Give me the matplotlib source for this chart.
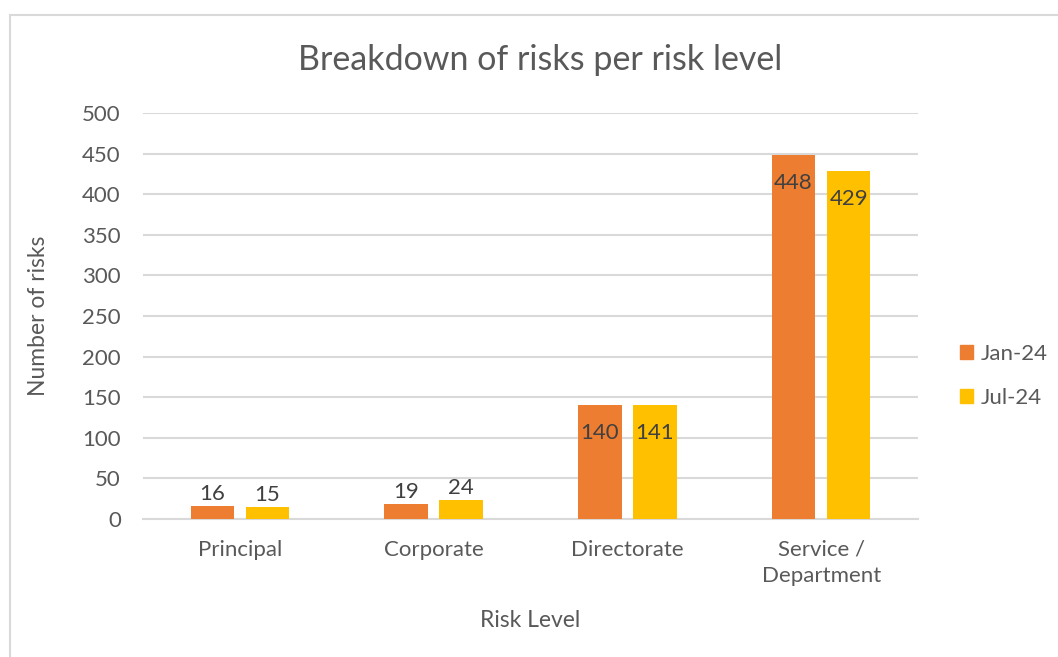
import matplotlib
matplotlib.use("Agg")
import matplotlib.pyplot as plt
import matplotlib.patches as mpatches
import numpy as np

plt.rcParams['font.family'] = ['Lato', 'DejaVu Sans']

categories = ['Principal', 'Corporate', 'Directorate', 'Service /\nDepartment']
jan24 = [16, 19, 140, 448]
jul24 = [15, 24, 141, 429]
series_names = ['Jan-24', 'Jul-24']
colors = ['#ED7D31', '#FFC000']
yticks = [0, 50, 100, 150, 200, 250, 300, 350, 400, 450, 500]

txt = '#595959'
grid = '#D9D9D9'
fs = 16

fig = plt.figure(figsize=(10.58, 6.57), dpi=100)
ax = fig.add_axes([143/1058, 1 - 519/657, (918-143)/1058, (519-113)/657])

x = np.arange(len(categories))
w = 0.225
off = 0.142
for vals, c, sgn, name in zip([jan24, jul24], colors, [-1, 1], series_names):
    bars = ax.bar(x + sgn*off, vals, width=w, color=c, label=name, zorder=3)
    for b, v in zip(bars, vals):
        cx = b.get_x() + b.get_width()/2
        if v > 60:
            ax.annotate(str(v), (cx, v), xytext=(0, -28), textcoords='offset pixels',
                        ha='center', va='center', fontsize=fs, color='#404040', zorder=4)
        else:
            ax.annotate(str(v), (cx, v), xytext=(0, 2), textcoords='offset pixels',
                        ha='center', va='bottom', fontsize=fs, color='#404040', zorder=4)

ax.set_xlim(-0.5, 3.5)
ax.set_ylim(0, 500)
ax.set_yticks(yticks)
ax.set_xticks(x)
ax.set_xticklabels(categories, linespacing=1.4)
ax.yaxis.grid(True, color=grid, linewidth=1.5, zorder=0)
ax.set_axisbelow(True)
for s in ['top', 'right', 'left']:
    ax.spines[s].set_visible(False)
ax.spines['bottom'].set_color(grid)
ax.spines['bottom'].set_linewidth(1.5)
ax.tick_params(axis='both', length=0, labelsize=fs, colors=txt)
ax.tick_params(axis='y', pad=16)
ax.tick_params(axis='x', pad=15)

ax.set_xlabel('Risk Level', fontsize=16.5, color=txt, labelpad=17)
ax.set_ylabel('Number of risks', fontsize=16.5, color=txt, labelpad=24)
fig.text(540/1058, 1 - 60/657, 'Breakdown of risks per risk level', ha='center', va='center',
         fontsize=24.5, color=txt)

handles = [mpatches.Patch(color=c) for c in colors]
leg = fig.legend(handles, series_names, loc='center left', bbox_to_anchor=(940/1058, 1 - 376/657),
                 frameon=False, fontsize=fs, handlelength=0.6, handleheight=0.6,
                 handletextpad=0.35, labelspacing=1.1, labelcolor=txt)

fig.patches.append(mpatches.Rectangle((9.5/1058, -0.1), 1.2, 1 - 14.5/657 + 0.1,
                                      transform=fig.transFigure, fill=False,
                                      edgecolor=grid, linewidth=1.5))

fig.savefig('out.png', dpi=100)
